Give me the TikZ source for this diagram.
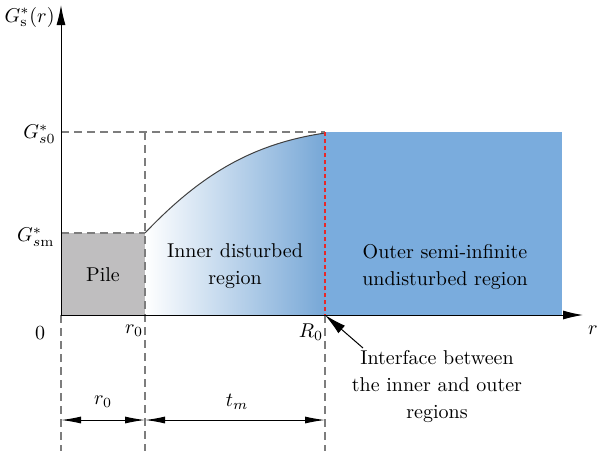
\documentclass[tikz,border=0pt]{standalone}
\usepackage{amsmath}
\usetikzlibrary{arrows.meta}
\definecolor{outerB}{RGB}{122,172,221}
\definecolor{pileG}{RGB}{191,190,191}
\definecolor{guideG}{RGB}{125,125,125}
\definecolor{ifaceR}{RGB}{232,40,40}
\tikzset{guide/.style={guideG, line width=0.6pt, dash pattern=on 4pt off 2.5pt},
  axisarr/.style={line width=0.5pt, -{Latex[length=10pt,width=4.5pt]}},
  dimarr/.style={line width=0.5pt, {Latex[length=10pt,width=3.5pt]}-{Latex[length=10pt,width=3.5pt]}},
  lbl/.style={font=\fontsize{10}{13.5}\selectfont, inner sep=1pt}}
\begin{document}
\begin{tikzpicture}[x=0.5pt, y=-0.5pt]
\useasboundingbox (0,0) rectangle (598,451);
% regions: pile, inner disturbed, outer undisturbed
\fill[pileG] (61,233) rectangle (145,315);
\shade[left color=white, right color=outerB!97!black]
  (145,315) -- (145,233) .. controls (203,172) and (255,143.5) .. (325,133) -- (325,315) -- cycle;
\fill[outerB] (325,132) rectangle (562,315);
\draw[black!75, line width=0.5pt] (145,233) .. controls (203,172) and (255,143.5) .. (325,133);
% guide lines
\draw[guide] (61,132) -- (325,132);
\draw[guide] (61,233) -- (145,233);
\draw[guide] (61,315) -- (61,451);
\draw[guide] (145,132) -- (145,451);
\draw[guide] (325,315) -- (325,451);
\draw[ifaceR, line width=0.6pt, dash pattern=on 2pt off 1.5pt] (325,132) -- (325,315);
% axes
\coordinate (O) at (61,315);
\coordinate (ytip) at (61,5);
\coordinate (xtip) at (583,315);
\draw[axisarr] (O) -- (ytip);
\draw[axisarr] (O) -- (xtip);
% axis labels
\node[lbl, anchor=east] (Gr) at (57,17) {$G^{*}_{\mathrm{s}}(r)$};
\node[lbl, anchor=east] (Gs0) at (58,134) {$G^{*}_{s0}$};
\node[lbl, anchor=east] (Gsm) at (57,237) {$G^{*}_{s\mathrm{m}}$};
\node[lbl] (zero) at (40,333) {$0$};
\node[lbl] (rzero) at (134,331) {$r_0$};
\node[lbl] (Rzero) at (311,332) {$R_0$};
\node[lbl] (rax) at (593,330) {$r$};
% region labels
\node[lbl] (pile) at (103,275) {Pile};
\node[lbl, align=center] (inner) at (235,266) {Inner disturbed\\region};
\node[lbl, align=center] (outer) at (445,267) {Outer semi-infinite\\undisturbed region};
% dimensions
\coordinate (d0) at (61,420);
\coordinate (d1) at (145,420);
\coordinate (d2) at (325,420);
\draw[dimarr] (d0) -- (d1);
\draw[dimarr] (d1) -- (d2);
\node[lbl] (dr) at (103,402) {$r_0$};
\node[lbl] (dt) at (237,402) {$t_m$};
% interface note
\node[lbl, align=center] (note) at (437,386) {Interface between\\the inner and outer\\regions};
\coordinate (iface) at (325,315);
\coordinate (tail) at (363,348);
\draw[line width=0.5pt, -{Latex[length=11pt,width=5pt]}] (tail) -- (iface);
\end{tikzpicture}
\end{document}
